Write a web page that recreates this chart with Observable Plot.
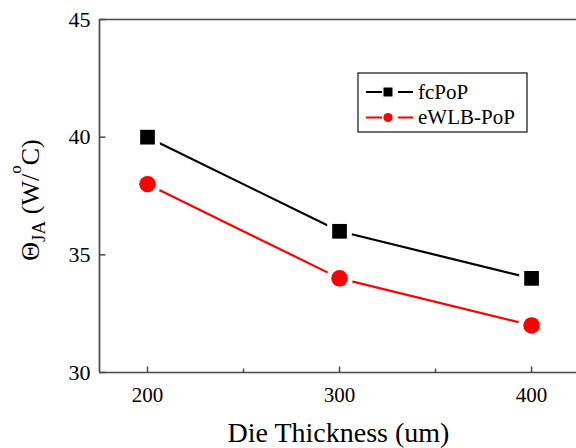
<!DOCTYPE html>
<html><head><meta charset="utf-8">
<script src="https://cdn.jsdelivr.net/npm/d3@7"></script>
<script src="https://cdn.jsdelivr.net/npm/@observablehq/plot@0.6"></script>
<style>body{margin:0;background:#fff}#chart{width:576px;height:448px}</style>
</head><body><div id="chart"></div>
<script>
const thickness = [200, 300, 400];
const fcPoP = [40, 36, 34];
const eWLBPoP = [38, 34, 32];
const seriesNames = ["fcPoP", "eWLB-PoP"];
const seriesColors = ["#000000", "#ff0000"];
const seriesSymbols = ["square", "circle"];
const yTicks = [30, 35, 40, 45];
const xTicks = [200, 300, 400];
const xMinorTicks = [250, 350];
const xDomain = [175, 423.4];
const yDomain = [30, 45];

const data = [
  ...thickness.map((t, i) => ({series: seriesNames[0], x: t, y: fcPoP[i]})),
  ...thickness.map((t, i) => ({series: seriesNames[1], x: t, y: eWLBPoP[i]}))
];

const FONT = "Liberation Serif, Times New Roman, serif";
const AXC = "#4a4a4a";
const tickShape = {draw(ctx, l) { ctx.moveTo(0, 0); ctx.lineTo(0, -l); }};

const chart = Plot.plot({
  width: 576, height: 448,
  marginLeft: 99, marginRight: 0, marginTop: 19, marginBottom: 76,
  x: {domain: xDomain},
  y: {domain: yDomain},
  color: {domain: seriesNames, range: seriesColors},
  symbol: {domain: seriesNames, range: seriesSymbols},
  style: {fontFamily: FONT, background: "white", color: "black"},
  marks: [
    Plot.ruleX([xDomain[0]], {stroke: AXC, strokeWidth: 1.7}),
    Plot.ruleY([yDomain[0], yDomain[1]], {stroke: AXC, strokeWidth: 1.7}),
    Plot.vector(xTicks, {x: d => d, y: () => yDomain[0], length: 6, rotate: 0, anchor: "start", shape: tickShape, stroke: AXC, strokeWidth: 1.5, fill: "none", strokeLinecap: "butt"}),
    Plot.vector(xMinorTicks, {x: d => d, y: () => yDomain[0], length: 4, rotate: 0, anchor: "start", shape: tickShape, stroke: AXC, strokeWidth: 1.5, fill: "none", strokeLinecap: "butt"}),
    Plot.vector(yTicks, {x: () => xDomain[0], y: d => d, length: 6, rotate: 90, anchor: "start", shape: tickShape, stroke: AXC, strokeWidth: 1.5, fill: "none", strokeLinecap: "butt"}),
    Plot.line(data, {x: "x", y: "y", z: "series", stroke: "series", strokeWidth: 2.2}),
    Plot.dot(data, {x: "x", y: "y", symbol: "series", fill: "series", r: 8.3, stroke: "white", strokeWidth: 10, paintOrder: "stroke", strokeLinejoin: "miter"}),
    Plot.axisY({ticks: yTicks, tickSize: 0, tickPadding: 9, fontSize: 22, fontFamily: FONT, label: null}),
    Plot.axisX({ticks: xTicks, tickSize: 0, tickPadding: 15, fontSize: 21, fontFamily: FONT, label: null})
  ]
});
document.getElementById("chart").appendChild(chart);

const svg = d3.select(chart);
// x axis title
svg.append("text").attr("x", 338.5).attr("y", 442).attr("text-anchor", "middle")
  .attr("font-family", FONT).attr("font-size", 28).attr("fill", "black")
  .text("Die Thickness (um)");
// y axis title
const yl = svg.append("text").attr("transform", "translate(39,200) rotate(-90)")
  .attr("text-anchor", "middle").attr("font-family", FONT).attr("font-size", 26).attr("fill", "black");
yl.append("tspan").text("Θ");
yl.append("tspan").attr("font-size", 19).attr("dy", 6).text("JA");
yl.append("tspan").attr("dy", -6).text(" (W/");
yl.append("tspan").attr("font-size", 17).attr("dy", -18).text("o");
yl.append("tspan").attr("dy", 18).text("C)");

// legend
const lg = svg.append("g").attr("text-anchor", "start");
lg.append("rect").attr("x", 358).attr("y", 73).attr("width", 169).attr("height", 59)
  .attr("fill", "white").attr("stroke", "#222").attr("stroke-width", 1.3);
const rows = [92, 117.5];
seriesNames.forEach((name, i) => {
  const cy = rows[i], col = seriesColors[i];
  lg.append("line").attr("x1", 366).attr("x2", 382).attr("y1", cy).attr("y2", cy).attr("stroke", col).attr("stroke-width", 2);
  lg.append("line").attr("x1", 398).attr("x2", 413).attr("y1", cy).attr("y2", cy).attr("stroke", col).attr("stroke-width", 2);
  if (seriesSymbols[i] === "square") {
    lg.append("rect").attr("x", 383.5).attr("y", cy - 4.5).attr("width", 9).attr("height", 9).attr("fill", col);
  } else {
    lg.append("circle").attr("cx", 388).attr("cy", cy).attr("r", 4.6).attr("fill", col);
  }
  lg.append("text").attr("x", 418).attr("y", cy + 6.5).attr("text-anchor", "start")
    .attr("font-family", FONT).attr("font-size", 21).attr("fill", "black").text(name);
});
</script></body></html>
